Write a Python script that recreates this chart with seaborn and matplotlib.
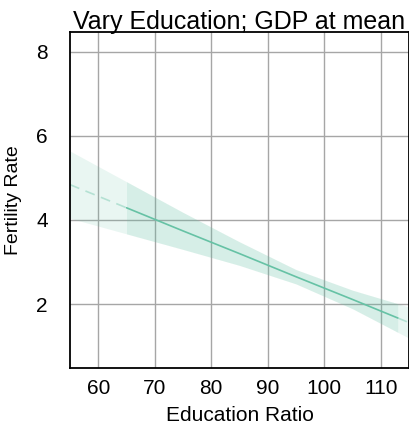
import matplotlib
matplotlib.use("Agg")
import matplotlib.pyplot as plt
import numpy as np
import pandas as pd
import seaborn as sns

# Predicted fertility vs. education ratio (GDP held at its mean)
education = [55, 65, 75, 85, 95, 105, 113, 115]
fertility = [4.84, 4.29, 3.74, 3.20, 2.65, 2.11, 1.67, 1.56]
ci_lower = [4.04, 3.67, 3.30, 2.92, 2.48, 1.89, 1.33, 1.19]
ci_upper = [5.64, 4.91, 4.18, 3.48, 2.82, 2.33, 2.01, 1.93]
observed_min, observed_max = 65, 113

x_ticks = [60, 70, 80, 90, 100, 110]
y_ticks = [2, 4, 6, 8]

df = pd.DataFrame({"education": education, "fertility": fertility,
                   "lower": ci_lower, "upper": ci_upper})
inside = df[(df.education >= observed_min) & (df.education <= observed_max)]
left_ext = df[df.education <= observed_min]
right_ext = df[df.education >= observed_max]

sns.set_theme(style="white")
plt.rcParams["font.family"] = ["Liberation Sans", "DejaVu Sans"]

color = "#66c2a5"
fig, ax = plt.subplots(figsize=(4.10, 4.28), dpi=100)
fig.subplots_adjust(left=70 / 410, right=409 / 410, top=1 - 32 / 428, bottom=1 - 368 / 428)

# Confidence band: full range lightly, observed range once more on top
ax.fill_between(df.education, df.lower, df.upper, color=color, alpha=0.14, linewidth=0)
ax.fill_between(inside.education, inside.lower, inside.upper, color=color, alpha=0.14, linewidth=0)

# Fitted line: solid inside the observed range, dashed when extrapolating
sns.lineplot(data=inside, x="education", y="fertility", color=color, linewidth=1.2, ax=ax)
for ext in (left_ext, right_ext):
    sns.lineplot(data=ext, x="education", y="fertility", color=color, alpha=0.4,
                 linewidth=1.2, linestyle=(0, (6, 4)), ax=ax)

ax.set_xlim(55, 115)
ax.set_ylim(0.48, 8.47)
ax.set_xticks(x_ticks)
ax.set_yticks(y_ticks)
ax.grid(True, color="#a6a6a6", linewidth=1.0)
ax.set_axisbelow(True)
ax.tick_params(axis="x", length=0, labelsize=15, pad=8, colors="black")
ax.tick_params(axis="y", length=0, labelsize=15, pad=16, colors="black")
for s in ax.spines.values():
    s.set_color("black")
    s.set_linewidth(1.3)

ax.set_xlabel("Education Ratio", fontsize=15, labelpad=6, color="black")
ax.set_ylabel("Fertility Rate", fontsize=14, labelpad=10, color="black")
ax.set_title("Vary Education; GDP at mean", fontsize=18, pad=2, color="black")

fig.savefig("out.png", dpi=100)
